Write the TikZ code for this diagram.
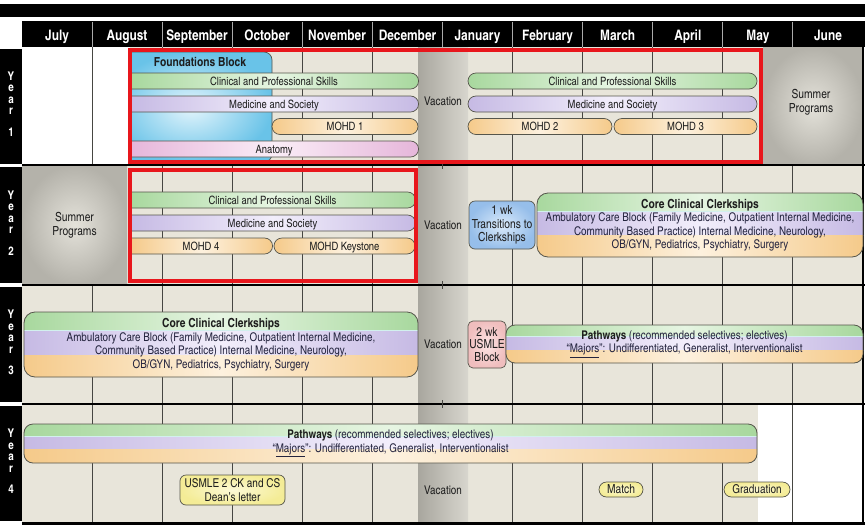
\documentclass[tikz,border=0pt]{standalone}
\usepackage{fontspec}
\setmainfont{texgyreheroscn}[Extension=.otf,UprightFont=*-regular,BoldFont=*-bold]
\usetikzlibrary{shapes.misc}

\definecolor{cellbg}{RGB}{232,229,218}
\definecolor{gridc}{RGB}{70,70,66}
\definecolor{vacdark}{RGB}{168,166,158}
\definecolor{vaclight}{RGB}{216,214,206}
\definecolor{sumin}{RGB}{228,226,218}
\definecolor{sumout}{RGB}{180,178,170}
\definecolor{fdout}{RGB}{105,195,232}
\definecolor{fdin}{RGB}{228,245,252}
\definecolor{grn}{RGB}{168,216,158}
\definecolor{grnl}{RGB}{230,245,226}
\definecolor{prp}{RGB}{198,186,228}
\definecolor{prpl}{RGB}{242,238,251}
\definecolor{org}{RGB}{245,202,138}
\definecolor{orgl}{RGB}{253,241,222}
\definecolor{pnk}{RGB}{230,182,218}
\definecolor{pnkl}{RGB}{250,237,247}
\definecolor{edge}{RGB}{85,85,75}
\definecolor{redbox}{RGB}{232,22,28}
\definecolor{trblue}{RGB}{150,190,234}
\definecolor{trbluel}{RGB}{218,234,250}
\definecolor{uspink}{RGB}{240,190,190}
\definecolor{uspinkl}{RGB}{252,228,228}
\definecolor{yel}{RGB}{244,236,150}
\definecolor{yell}{RGB}{252,249,214}
\definecolor{txt}{RGB}{30,30,30}
\definecolor{bandtxt}{RGB}{36,36,62}
\definecolor{bandline}{RGB}{210,240,238}
\definecolor{hdrsep}{RGB}{170,170,170}

% a course bar given by its name, style, left x, right x, centre y and label
\newcommand\lanebar[6]{\node[#2, minimum width={#4-#3}] (#1) at ({(#3+#4)/2},#5) {#6};}

% three coloured bands (green, purple, orange) inside a rounded box
\newcommand\bandblock[7]{%
  \begin{scope}
    \clip[rounded corners=#5] (#1,#2) rectangle (#3,#4);
    \shade[left color=grn,right color=grn,middle color=grnl] (#1,#2) rectangle (#3,{#2+(#4-#2)*#6});
    \shade[left color=prp,right color=prp,middle color=prpl] (#1,{#2+(#4-#2)*#6}) rectangle (#3,{#2+(#4-#2)*#7});
    \shade[left color=org,right color=org,middle color=orgl] (#1,{#2+(#4-#2)*#7}) rectangle (#3,#4);
    \draw[bandline, line width=1pt] (#1,{#2+(#4-#2)*#6}) -- (#3,{#2+(#4-#2)*#6});
  \end{scope}}

\begin{document}
\begin{tikzpicture}[x=1pt,y=-1pt,
  pill/.style={rounded rectangle, draw=edge, line width=0.7pt, minimum height=16,
    inner sep=0pt, font=\fontsize{11.5}{13}\selectfont, text=txt,
    text height=8.2pt, text depth=0pt},
  sq/.style={rounded rectangle left arc=none},
  gbar/.style={pill, left color=grn, right color=grn, middle color=grnl},
  pbar/.style={pill, left color=prp, right color=prp, middle color=prpl},
  obar/.style={pill, left color=org, right color=org, middle color=orgl},
  kbar/.style={pill, left color=pnk, right color=pnk, middle color=pnkl},
  month/.style={text=white, font=\bfseries\fontsize{14.5}{16}\selectfont, anchor=base, inner sep=0pt},
  yearlbl/.style={text=white, font=\bfseries\fontsize{12}{11.5}\selectfont, align=center, inner sep=0pt},
  plain/.style={text=txt, font=\fontsize{12}{14}\selectfont, align=center, inner sep=0pt},
  band/.style={draw=edge, line width=0.8pt, align=center, inner sep=0pt, text=bandtxt,
    font=\fontsize{12}{13.5}\selectfont},
  tag/.style={draw=edge, line width=0.7pt, align=center, inner sep=0pt, text=txt,
    font=\fontsize{12.5}{13.5}\selectfont},
  gridline/.style={draw=gridc, line width=0.9pt},
  sep/.style={draw=black, line width=2pt},
  redframe/.style={draw=redbox, line width=4pt}
]
\useasboundingbox (0,0) rectangle (865,528);
\fill[white] (0,0) rectangle (865,528);

% ---------- title band and month header ----------
\fill[black] (0,4) rectangle (865,17);
\fill[black] (22,21) rectangle (865,47);
\foreach \i in {1,...,11}
  \draw[hdrsep, line width=1pt] ({22+70.08*\i},22) -- ({22+70.08*\i},47);
\foreach \m/\cx [count=\k] in {July/57,August/127,September/197,October/267,November/337,December/407.5,
    January/477.5,February/547.6,March/617.7,April/687.8,May/757.9,June/828}
  \node[month] (month\k) at (\cx,40.5) {\m};

% ---------- cell backgrounds ----------
\fill[cellbg] (130,47) rectangle (763,165);
\fill[cellbg] (22,165) rectangle (863,285);
\fill[cellbg] (22,285) rectangle (863,404);
\fill[cellbg] (22,404) rectangle (758,523);

% month grid lines
\foreach \i in {1,...,11}
  \draw[gridline] ({22+70.08*\i},47) -- ({22+70.08*\i},523);

% vacation columns
\foreach \ya/\yb in {47/165,165/285,285/404,404/523}
  \shade[left color=vacdark, right color=vaclight] (418,\ya) rectangle (468,\yb);

% summer programme areas
\shade[inner color=sumin, outer color=sumout] (763,47) rectangle (863,165);
\shade[inner color=sumin, outer color=sumout] (22,165) rectangle (127,285);

% row separators and outer frame
\foreach \yy in {165,285,404}
  \draw[sep] (22,\yy) -- (865,\yy);
\foreach \yy in {165,285,404}
  \draw[gridc, line width=0.9pt] (442.5,\yy-4) -- (442.5,\yy+4);
\draw[black, line width=2.5pt] (22,523.5) -- (865,523.5);
\draw[black, line width=2pt] (863,47) -- (863,523.5);

% year labels
\foreach \ya/\yb/\n in {48.5/163.5/1,167/283/2,287/402/3,406/521/4} {
  \fill[black] (0,\ya) rectangle (22,\yb);
  \node[yearlbl] (year\n) at (11,{(\ya+\yb)/2-2}) {Y\\e\\a\\r\\[10pt]\n};
}

% ---------- Year 1 ----------
\begin{scope}
  \clip (130,40) rectangle (300,170);
  \shade[inner color=fdin, outer color=fdout, draw=edge, line width=0.7pt, rounded corners=8]
    (110,52) rectangle (272,162);
\end{scope}
\node[text=txt, font=\bfseries\fontsize{12.5}{14}\selectfont, inner sep=0pt] (found) at (200,62) {Foundations Block};

\lanebar{cpsA}{gbar,sq}{130}{418}{81}{Clinical and Professional Skills}
\lanebar{cpsB}{gbar}{468}{757}{81}{Clinical and Professional Skills}
\lanebar{masA}{pbar,sq}{130}{418}{104}{Medicine and Society}
\lanebar{masB}{pbar}{468}{757}{104}{Medicine and Society}
\lanebar{mohdA}{obar}{272}{418}{126.5}{MOHD 1}
\lanebar{mohdB}{obar}{468}{612}{126.5}{MOHD 2}
\lanebar{mohdC}{obar}{614}{757}{126.5}{MOHD 3}
\lanebar{anat}{kbar,sq}{130}{418}{149}{Anatomy}

\node[plain] (vacA) at (443,101) {Vacation};
\node[plain, font=\fontsize{12.5}{14}\selectfont] (sumA) at (811,102) {Summer\\Programs};

% ---------- Year 2 ----------
\node[plain, font=\fontsize{12.5}{14}\selectfont] (sumB) at (74.5,225) {Summer\\Programs};
\lanebar{cpsC}{gbar,sq}{130}{415}{200}{Clinical and Professional Skills}
\lanebar{masC}{pbar,sq}{130}{415}{223}{Medicine and Society}
\lanebar{mohdD}{obar,sq}{130}{272}{246}{MOHD 4}
\lanebar{keystone}{obar}{274}{415}{246}{MOHD Keystone}
\node[plain] (vacB) at (443,225) {Vacation};
\node[tag, rounded corners=6, minimum width=66, minimum height=48,
  inner color=trbluel, outer color=trblue] (trans) at (502,225) {1 wk\\Transitions to\\Clerkships};

\bandblock{537}{193}{863}{257}{11}{0.29}{0.67}
\node[band, rounded corners=11, minimum width=326, minimum height=64] (coreB) at (700,225)
  {{\bfseries\fontsize{12.5}{14}\selectfont\color{txt} Core Clinical Clerkships}\\
   Ambulatory Care Block (Family Medicine, Outpatient Internal Medicine,\\
   Community Based Practice) Internal Medicine, Neurology,\\
   OB/GYN, Pediatrics, Psychiatry, Surgery};

% ---------- Year 3 ----------
\bandblock{24}{312}{418}{377}{11}{0.29}{0.67}
\node[band, rounded corners=11, minimum width=394, minimum height=65] (coreC) at (221,344.5)
  {{\bfseries\fontsize{12.5}{14}\selectfont\color{txt} Core Clinical Clerkships}\\
   Ambulatory Care Block (Family Medicine, Outpatient Internal Medicine,\\
   Community Based Practice) Internal Medicine, Neurology,\\
   OB/GYN, Pediatrics, Psychiatry, Surgery};
\node[plain] (vacC) at (443,344) {Vacation};
\node[tag, rounded corners=5, minimum width=38, minimum height=47,
  inner color=uspinkl, outer color=uspink, font=\fontsize{12.5}{12.5}\selectfont] (usmleA) at (487,344.5) {2 wk\\USMLE\\Block};

\bandblock{506}{325}{863}{363}{9}{0.31}{0.66}
\node[band, rounded corners=9, minimum width=357, minimum height=38] (pathC) at (684.5,344)
  {{\bfseries\color{txt} Pathways} (recommended selectives; electives)\\
   “\underline{Majors}”: Undifferentiated, Generalist, Interventionalist};

% ---------- Year 4 ----------
\bandblock{24}{424}{757}{463}{9}{0.33}{0.66}
\node[band, rounded corners=9, minimum width=733, minimum height=39] (pathD) at (390.5,443.5)
  {{\bfseries\color{txt} Pathways} (recommended selectives; electives)\\
   “\underline{Majors}”: Undifferentiated, Generalist, Interventionalist};
\node[plain] (vacD) at (443,490) {Vacation};
\node[tag, rounded corners=6, minimum width=105, minimum height=30,
  inner color=yell, outer color=yel, font=\fontsize{12.2}{14.5}\selectfont] (usmleB) at (232.5,490)
  {USMLE 2 CK and CS\\Dean’s letter};
\node[pill, font=\fontsize{12.5}{13}\selectfont, minimum width=44, minimum height=15,
  inner color=yell, outer color=yel] (match) at (621,489.5) {Match};
\node[pill, font=\fontsize{12.2}{13}\selectfont, minimum width=66, minimum height=15,
  inner color=yell, outer color=yel] (grad) at (757,489.5) {Graduation};

% ---------- highlighted years ----------
\draw[redframe] (130,50) rectangle (761,162);
\draw[redframe] (130,170) rectangle (416,281);
\end{tikzpicture}
\end{document}
